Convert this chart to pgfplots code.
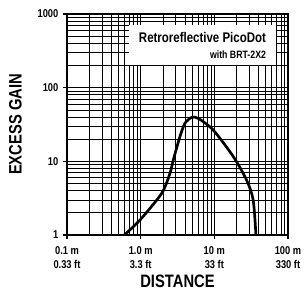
\documentclass[border=0pt]{standalone}
\usepackage{pgfplots}
\pgfplotsset{compat=1.18}
\usepackage{fontspec}
\setmainfont{Liberation Sans}[FakeStretch=0.82]
\usetikzlibrary{calc}
\begin{document}
\begin{tikzpicture}
\begin{axis}[
 xmode=log, ymode=log, scale only axis, width=165.75pt, height=165.75pt,
 xmin=0.1,xmax=100,ymin=1,ymax=1000,
 xtick={0.1,1,10,100},
 minor xtick={0.2,0.3,0.4,0.5,0.6,0.7,0.8,0.9,2,3,4,5,6,7,8,9,20,30,40,50,60,70,80,90},
 minor ytick={2,3,4,5,6,7,8,9,20,30,40,50,60,70,80,90,200,300,400,500,600,700,800,900},
 xticklabels={{0.1 m\\0.33 ft},{1.0 m\\3.3 ft},{10 m\\33 ft},{100 m\\330 ft}},
 xticklabel style={align=center, font=\bfseries\fontsize{8.5}{10.5}\selectfont, yshift=-2.5pt},
 ytick={1,10,100,1000}, yticklabels={1,10,100,1000},
 yticklabel style={font=\bfseries\fontsize{8.5}{9}\selectfont},
 grid=both, major grid style={black, line width=0.8pt}, minor grid style={black, line width=0.5pt},
 axis line style={black, line width=0.8pt},
 tick style={black, line width=0.8pt}, tick align=outside, major tick length=3pt, minor tick length=0pt,
 tick pos=left,
 xlabel={DISTANCE}, ylabel={EXCESS GAIN},
 xlabel style={font=\bfseries\fontsize{13.5}{15}\selectfont, yshift=2.5pt},
 ylabel style={font=\bfseries\fontsize{13.5}{15}\selectfont, yshift=5pt},
]
\addplot[black, line width=2pt, smooth, tension=0.45] coordinates {
(0.6,1) (0.98,1.6) (1.93,3.68) (2.5,6.9) (2.77,10.4) (3.41,21.6) (3.99,32.8) (4.92,39.5) (6.05,38.3) (9.66,26.6) (18.1,11.6) (27.4,5.58) (33.7,2.98) (36.7,1)
};
\node[fill=white, inner sep=3pt, anchor=north east, minimum width=110pt, minimum height=30pt, align=right, font=\bfseries] at (rel axis cs:0.946,0.95)
 {{\fontsize{10.5}{14}\selectfont Retroreflective PicoDot}\\{\fontsize{8}{9}\selectfont with BRT-2X2}};
\end{axis}
\pgfresetboundingbox
\path[use as bounding box] ($(current axis.south west)+(-50.25pt,-45pt)$) rectangle ($(current axis.north east)+(12pt,10.5pt)$);
\end{tikzpicture}
\end{document}
